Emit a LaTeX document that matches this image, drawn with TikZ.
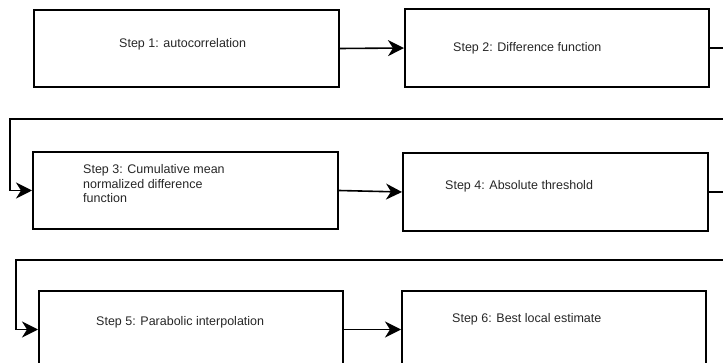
\documentclass[tikz,border=0pt]{standalone}
\usepackage{fontspec}
\setmainfont{Liberation Sans}
\usetikzlibrary{arrows.meta}
\begin{document}
\begin{tikzpicture}[x=1pt,y=-1pt,
  stepbox/.style={draw=black, line width=2pt, rectangle, inner sep=0pt},
  steplabel/.style={anchor=base west, inner sep=0pt, font=\fontsize{12.5pt}{14.5pt}\selectfont, text=black!85},
  flow/.style={draw=black, line width=1.6pt, -{Stealth[length=16pt,width=16pt,inset=5pt]}}
]
\useasboundingbox (0,0) rectangle (723,363);
\clip (0,0) rectangle (723,363);

% process boxes
\node[stepbox, minimum width=305pt, minimum height=77pt] (b1) at (186.5,48.5) {};
\node[stepbox, minimum width=304pt, minimum height=78pt] (b2) at (557,48) {};
\node[stepbox, minimum width=305pt, minimum height=77pt] (b3) at (185.5,190.5) {};
\node[stepbox, minimum width=305pt, minimum height=78pt] (b4) at (555.5,192) {};
\node[stepbox, minimum width=304pt, minimum height=77pt] (b5) at (191,329.5) {};
\node[stepbox, minimum width=304pt, minimum height=77pt] (b6) at (554,329.5) {};

% step labels (the three-line label is placed by the baseline of its last line)
\node[steplabel] (t1) at (119,48) {Step 1: autocorrelation};
\node[steplabel] (t2) at (453,52) {Step 2: Difference function};
\node[steplabel, align=left] (t3) at (83,203) {Step 3: Cumulative mean\\normalized difference\\function};
\node[steplabel] (t4) at (445,190) {Step 4: Absolute threshold};
\node[steplabel] (t5) at (96,326) {Step 5: Parabolic interpolation};
\node[steplabel] (t6) at (452,323) {Step 6: Best local estimate};

% connectors
\coordinate (r1a) at (735,48);
\coordinate (r1b) at (735,119);
\coordinate (l1) at (10,119);
\coordinate (r2a) at (735,192);
\coordinate (r2b) at (735,260);
\coordinate (l2) at (16,260);

\draw[flow] (b1.east) -- (b2.west);
\draw[flow] (b2.east) -- (r1a) -- (r1b) -- (l1) |- (b3.west);
\draw[flow] (b3.east) -- (b4.west);
\draw[flow] (b4.east) -- (r2a) -- (r2b) -- (l2) |- (b5.west);
\draw[flow] (b5.east) -- (b6.west);
\end{tikzpicture}
\end{document}
